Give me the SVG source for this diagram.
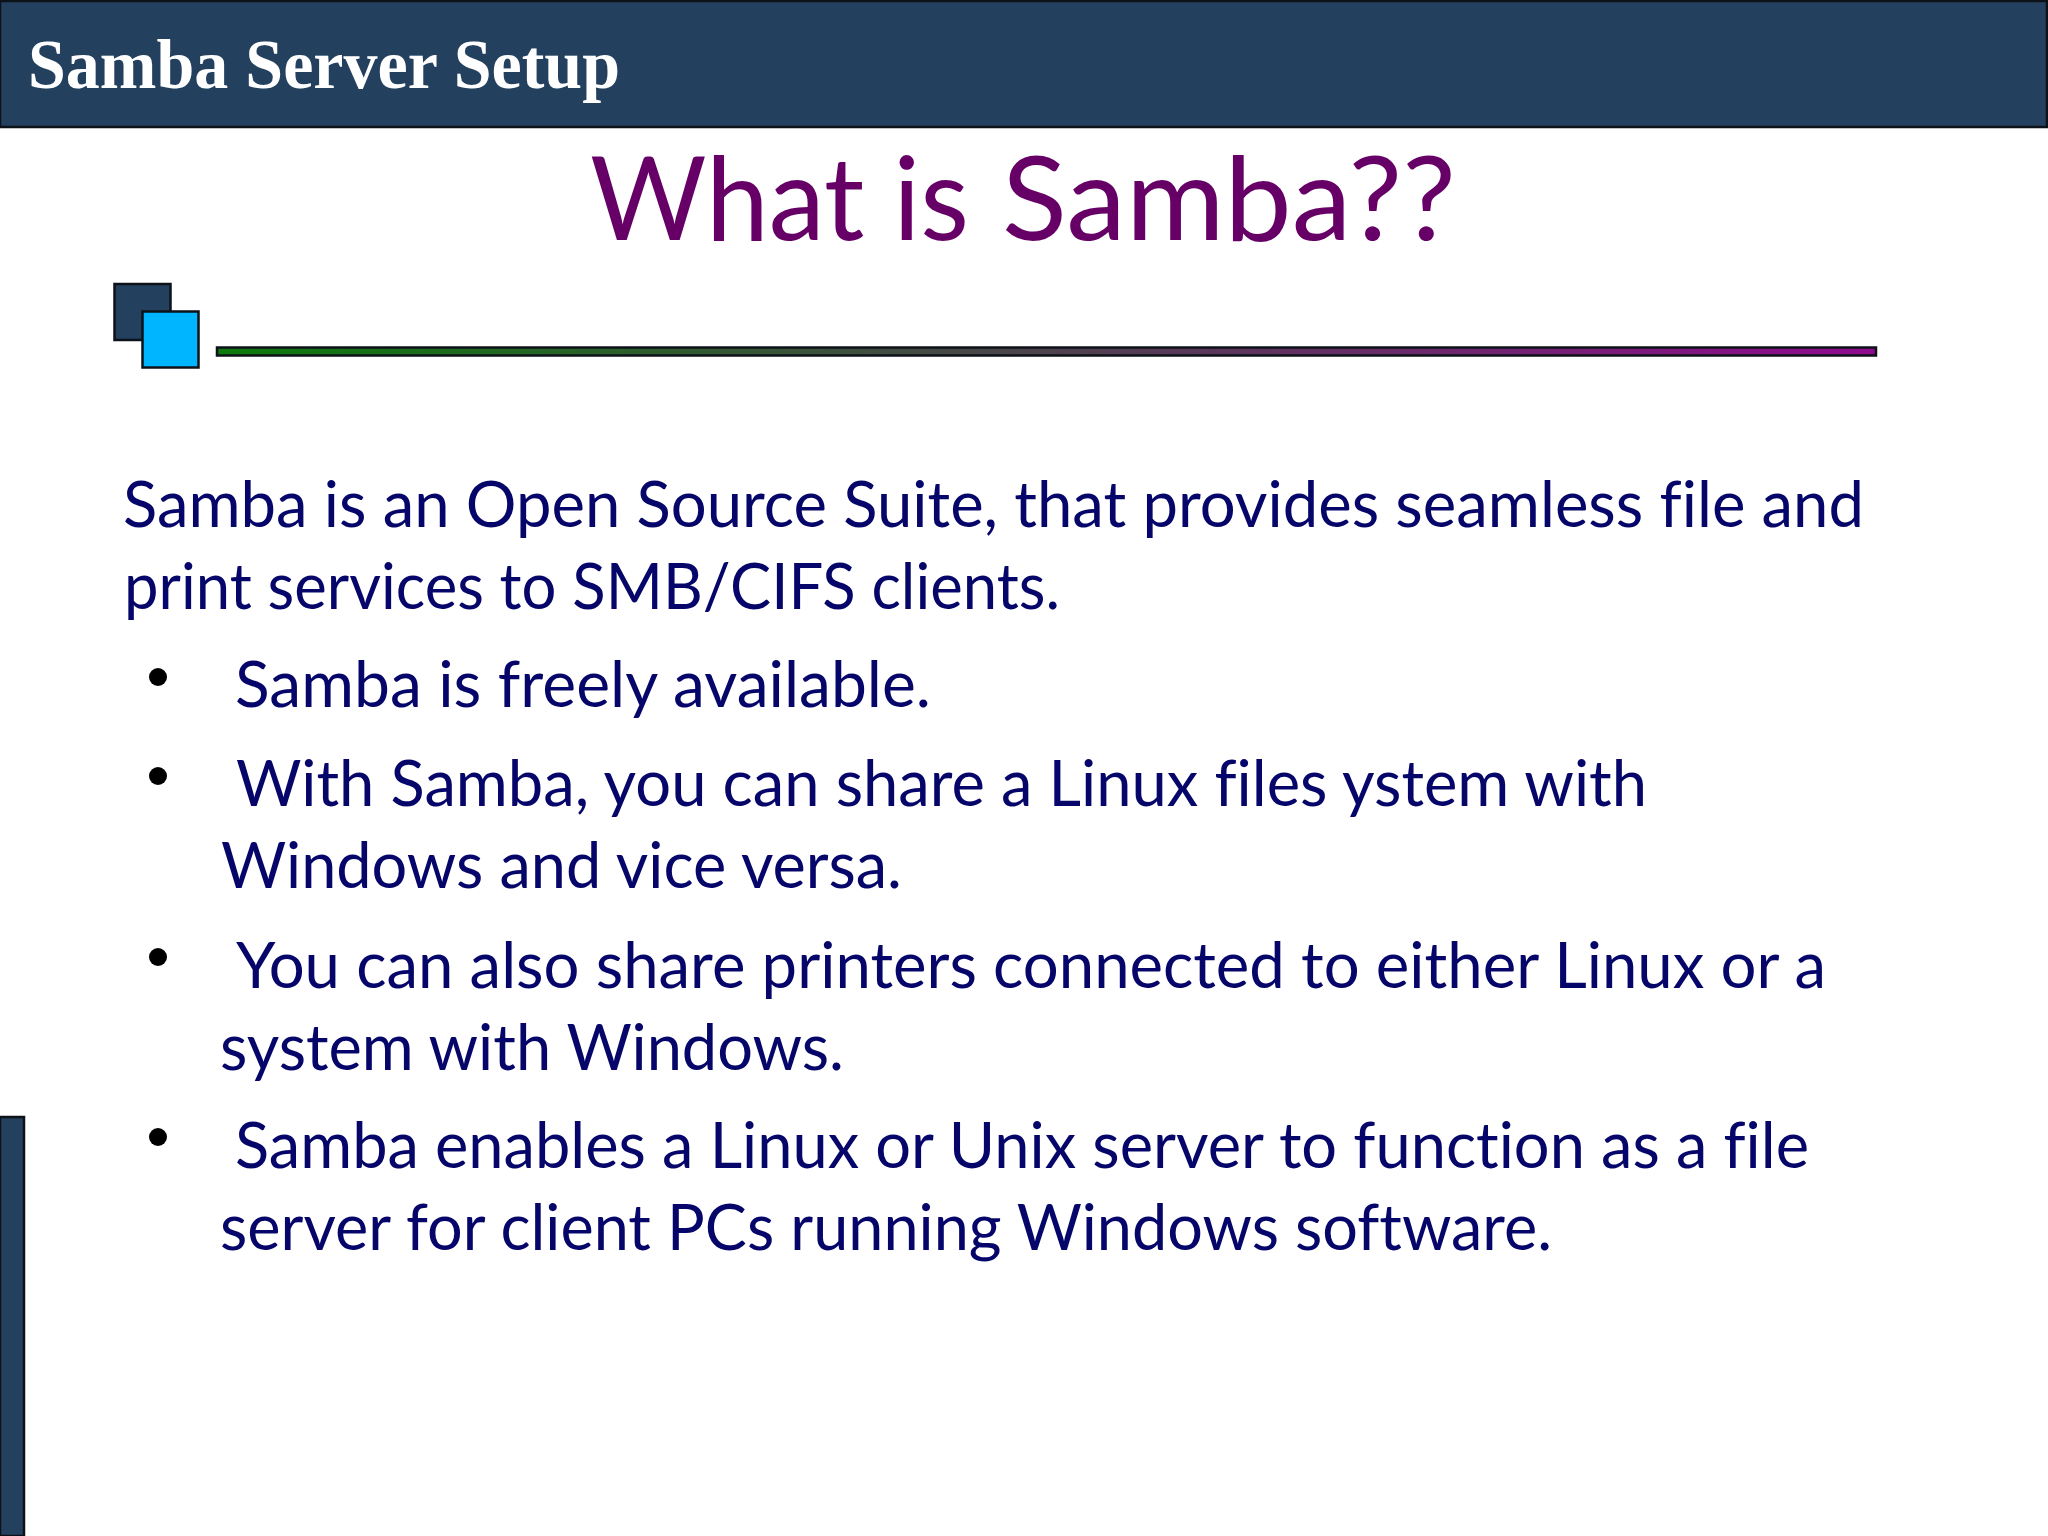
<svg xmlns="http://www.w3.org/2000/svg" width="2048" height="1536" viewBox="0 0 2048 1536">
<style>
.b{font-family:"Lato","Open Sans",sans-serif;font-size:63px;fill:#06066a;font-variant-ligatures:none}
.box{stroke:#0c1218;stroke-width:2.5}
.d{fill:#24405f}
</style>
<defs><linearGradient id="g" x1="0" y1="0" x2="1" y2="0"><stop offset="0" stop-color="#0b7a0b"/><stop offset="1" stop-color="#8f0a8f"/></linearGradient></defs>
<rect width="2048" height="1536" fill="#fff"/>
<g id="header"><rect class="box d" x="0" y="1" width="2047" height="126"/>
<text x="28" y="88" textLength="592" lengthAdjust="spacingAndGlyphs" font-family="'Liberation Serif',serif" font-weight="700" font-size="69" fill="#fff">Samba Server Setup</text></g>
<g id="title"><text y="240" font-family="Lato,'Open Sans',sans-serif" font-size="116" fill="#660066"><tspan x="590" textLength="379" lengthAdjust="spacingAndGlyphs">What is</tspan> <tspan x="1002" textLength="454" lengthAdjust="spacingAndGlyphs">Samba??</tspan></text></g>
<g id="decor">
<rect class="box d" x="114.500" y="284" width="56" height="56"/>
<rect class="box" fill="#00b5ff" x="142.500" y="311.500" width="56" height="56"/>
<rect class="box" fill="url(#g)" x="217" y="347.500" width="1659" height="8"/>
<rect class="box d" x="0" y="1117" width="24" height="419"/>
</g>
<g id="body">
<text class="b" x="123" y="527" textLength="1741" lengthAdjust="spacingAndGlyphs">Samba is an Open Source Suite, that provides seamless file and</text>
<text class="b" x="124" y="609" textLength="936" lengthAdjust="spacingAndGlyphs">print services to SMB/CIFS clients.</text>
<text class="b" x="235" y="707" textLength="696" lengthAdjust="spacingAndGlyphs">Samba is freely available.</text>
<text class="b" x="236" y="806" textLength="1411" lengthAdjust="spacingAndGlyphs">With Samba, you can share a Linux files ystem with</text>
<text class="b" x="221" y="888" textLength="681" lengthAdjust="spacingAndGlyphs">Windows and vice versa.</text>
<text class="b" x="236" y="988" textLength="1590" lengthAdjust="spacingAndGlyphs">You can also share printers connected to either Linux or a</text>
<text class="b" x="220" y="1070" textLength="624" lengthAdjust="spacingAndGlyphs">system with Windows.</text>
<text class="b" x="235" y="1168" textLength="1574" lengthAdjust="spacingAndGlyphs">Samba enables a Linux or Unix server to function as a file</text>
<text class="b" x="220" y="1250" textLength="1332" lengthAdjust="spacingAndGlyphs">server for client PCs running Windows software.</text>
<circle cx="158" cy="677" r="9"/><circle cx="158" cy="776" r="9"/><circle cx="158" cy="957" r="9"/><circle cx="158" cy="1137" r="9"/>
</g>
</svg>
